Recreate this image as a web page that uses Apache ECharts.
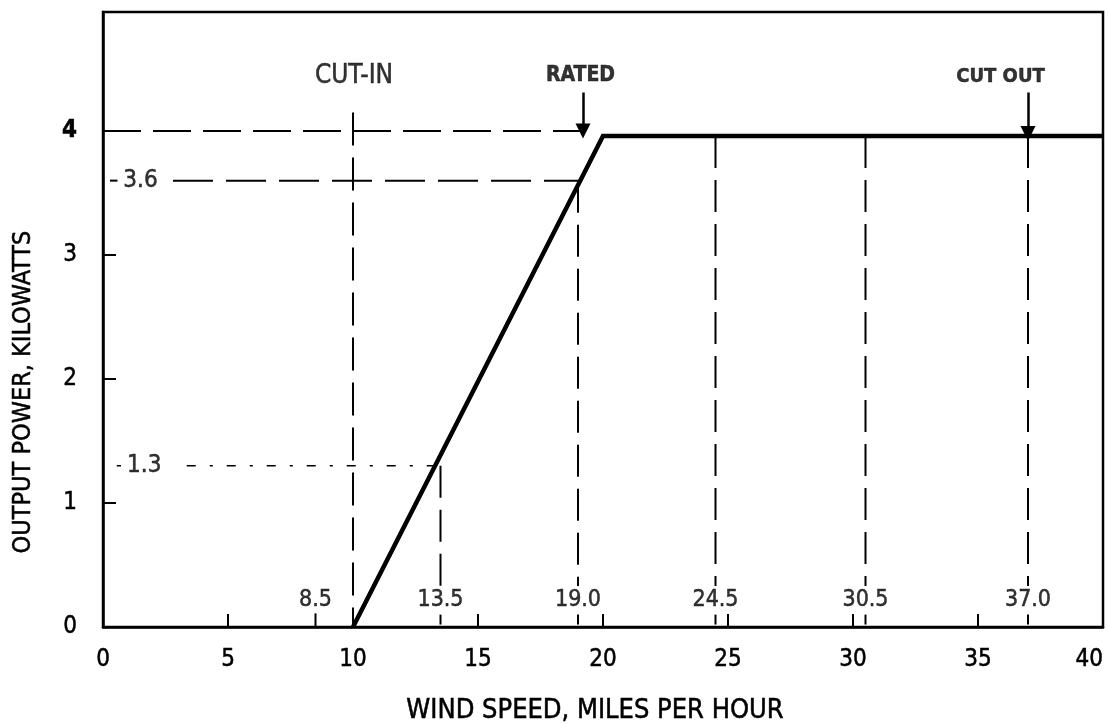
<!DOCTYPE html>
<html>
<head>
<meta charset="utf-8">
<script src="https://cdn.jsdelivr.net/npm/echarts@6/dist/echarts.min.js"></script>
<style>
  html, body { margin: 0; padding: 0; background: #fff; }
  #chart { width: 1109px; height: 724px; }
</style>
</head>
<body>
<div id="chart"></div>
<script>
// Wind turbine power curve: output power versus wind speed.
const xTicks = [0, 5, 10, 15, 20, 25, 30, 35, 40];
const yTicks = [0, 1, 2, 3, 4];
const powerCurve = [[10, 0], [20, 3.96], [40, 3.96]];   // mph, kW
const cutInSpeed = 10;
const ratedPower = 4;
const ratedSpeed = 19.2;
const cutOutSpeed = 37.0;
const markedSpeeds = [8.5, 13.5, 19.0, 24.5, 30.5, 37.0];
const markedSpeedPowers = [null, 1.3, 3.6, 3.96, 3.96, 3.96]; // power where each speed guide starts
const markedPowers = [3.6, 1.3];
const markedPowerSpeeds = [19.1, 13.4];                        // where each power guide meets the curve
const eventLabels = ['CUT-IN', 'RATED', 'CUT OUT'];
const xTitle = 'WIND SPEED, MILES PER HOUR';
const yTitle = 'OUTPUT POWER, KILOWATTS';

const FONT = '"Liberation Sans Narrow", "DejaVu Sans Condensed", "Liberation Sans", Arial, sans-serif';
const INK = '#000';

const chart = echarts.init(document.getElementById('chart'), null, { renderer: 'canvas' });

// shared look for hand-lettered text
function ink(size, weight) {
  return {
    color: INK, fontFamily: FONT, fontSize: size, fontWeight: weight || 'normal',
    textBorderColor: INK, textBorderWidth: 0.5
  };
}

function seg(points, dash, width) {
  return {
    type: 'line',
    data: points,
    symbol: 'none',
    silent: true,
    z: 3,
    lineStyle: { color: INK, width: width, type: dash, cap: 'butt' }
  };
}

const series = [];

// power curve
series.push({
  type: 'line',
  data: powerCurve,
  symbol: 'none',
  z: 5,
  lineStyle: { color: INK, width: 4.5, join: 'miter' }
});

// rated power guide, dashed from the axis to the RATED arrow
series.push(seg([[0, ratedPower], [ratedSpeed, ratedPower]], [38, 12], 2));

// cut-in speed guide
series.push(seg([[cutInSpeed, 4.15], [cutInSpeed, 0]], [33, 12], 2));

// marked power guides (3.6 long dash, 1.3 dash-dot)
series.push(seg([[0.28, markedPowers[0]], [0.58, markedPowers[0]]], 'solid', 2));
series.push(seg([[2.8, markedPowers[0]], [markedPowerSpeeds[0], markedPowers[0]]], [40, 13], 2));
series.push(seg([[0.55, markedPowers[1]], [0.72, markedPowers[1]]], 'solid', 1.5));
series.push(seg([[3.35, markedPowers[1]], [markedPowerSpeeds[1], markedPowers[1]]], [9, 14, 3, 14], 1.5));

// marked speed guides, broken where their values are written
markedSpeeds.forEach(function (s, i) {
  const top = markedSpeedPowers[i];
  if (top !== null) {
    series.push(seg([[s, top], [s, 0.33]], [32, 12], 2));
    series.push(seg([[s, 0.1], [s, 0.02]], 'solid', 2));
  } else {
    series.push(seg([[s, 0.11], [s, 0]], 'solid', 2));
  }
});

// value labels for the marked speeds
series.push({
  type: 'scatter',
  data: markedSpeeds.map(function (s) { return [s, 0.22]; }),
  symbolSize: 0,
  silent: true,
  z: 6,
  label: Object.assign({
    show: true, position: 'inside',
    formatter: function (p) { return p.value[0].toFixed(1); }
  }, ink(23))
});

// value labels for the marked powers
series.push({
  type: 'scatter',
  data: [[1.5, markedPowers[0]], [1.65, markedPowers[1]]],
  symbolSize: 0,
  silent: true,
  z: 6,
  label: Object.assign({
    show: true, position: 'inside',
    formatter: function (p) { return p.value[1].toFixed(1); }
  }, ink(24))
});

// event labels
series.push({
  type: 'scatter',
  data: [
    { value: [10.04, 4.44], name: eventLabels[0] },
    { value: [19.1, 4.45], name: eventLabels[1], label: { fontWeight: 'bold', fontSize: 21 } },
    { value: [35.9, 4.44], name: eventLabels[2], label: { fontWeight: 'bold', fontSize: 20 } }
  ],
  symbolSize: 0,
  silent: true,
  z: 6,
  label: Object.assign({
    show: true, position: 'inside',
    formatter: function (p) { return p.name; }
  }, ink(26))
});

// arrows for RATED and CUT OUT
series.push({
  type: 'lines',
  coordinateSystem: 'cartesian2d',
  silent: true,
  z: 6,
  symbol: ['none', 'triangle'],
  symbolSize: [9, 15],
  lineStyle: { color: INK, width: 2.5, opacity: 1, curveness: 0 },
  itemStyle: { color: INK },
  data: [
    { coords: [[ratedSpeed, 4.31], [ratedSpeed, 4.0]] },
    { coords: [[cutOutSpeed, 4.31], [cutOutSpeed, 3.98]] }
  ]
});

const option = {
  animation: false,
  backgroundColor: '#fff',
  textStyle: { fontFamily: FONT, color: INK },
  grid: {
    left: 103, right: 6, top: 12, bottom: 97,
    show: true, borderColor: INK, borderWidth: 2.5,
    containLabel: false, outerBoundsMode: 'none'
  },
  xAxis: {
    type: 'value', min: xTicks[0], max: xTicks[xTicks.length - 1], interval: 5,
    axisLine: { show: true, onZero: false, lineStyle: { color: INK, width: 2.5 } },
    axisTick: { show: true, inside: true, length: 13, lineStyle: { color: INK, width: 2 } },
    axisLabel: Object.assign({
      margin: 21, alignMaxLabel: 'right',
      formatter: function (v) { return xTicks.indexOf(v) >= 0 ? String(v) : ''; }
    }, ink(24)),
    splitLine: { show: false },
    name: xTitle, nameLocation: 'middle', nameGap: 70,
    nameTextStyle: Object.assign({ padding: [0, 16, 0, 0] }, ink(27))
  },
  yAxis: {
    type: 'value', min: 0, max: 4.96, interval: 1,
    axisLine: { show: true, onZero: false, lineStyle: { color: INK, width: 2.5 } },
    axisTick: { show: true, inside: true, length: 13, lineStyle: { color: INK, width: 2 } },
    axisLabel: Object.assign({
      margin: 26, showMaxLabel: false,
      formatter: function (v) {
        if (yTicks.indexOf(v) < 0) return '';
        return v === ratedPower ? '{b|' + v + '}' : String(v);
      },
      rich: { b: ink(24, 'bold') }
    }, ink(24)),
    splitLine: { show: false }
  },
  graphic: [{
    type: 'text',
    x: 23, y: 392,
    rotation: Math.PI / 2,
    style: {
      text: yTitle, fill: INK, font: '25px ' + FONT,
      stroke: INK, lineWidth: 0.5,
      textAlign: 'center', textVerticalAlign: 'middle'
    }
  }],
  series: series
};

chart.setOption(option);
</script>
</body>
</html>
